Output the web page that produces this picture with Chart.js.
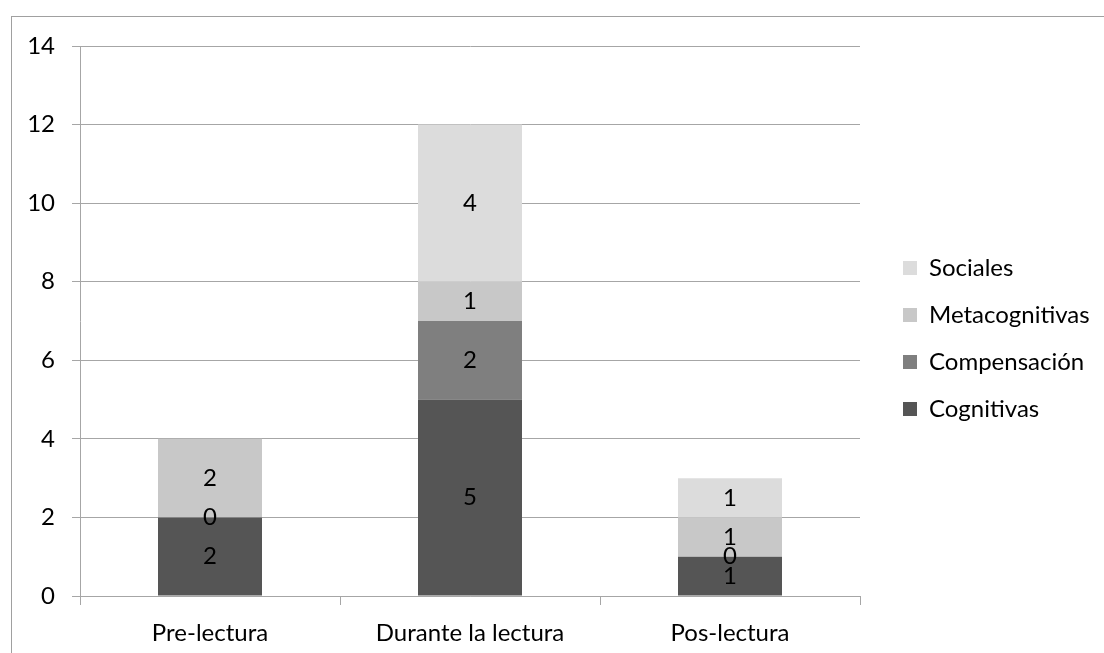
<!DOCTYPE html>
<html>
<head>
    <title>Estrategias por fase de lectura</title>
    <script src="https://cdn.jsdelivr.net/npm/chart.js"></script>
    <style>
        html, body { margin: 0; padding: 0; background: #fff; }
        .chart-container { width: 1104px; height: 653px; position: relative; }
    </style>
</head>
<body>
    <div class="chart-container">
        <canvas id="strategyChart"></canvas>
    </div>

    <script>
        // data
        const categories = ['Pre-lectura', 'Durante la lectura', 'Pos-lectura'];
        const cognitivas = [2, 5, 1];
        const compensacion = [0, 2, 0];
        const metacognitivas = [2, 1, 1];
        const sociales = [null, 4, 1];
        const yTicks = [0, 2, 4, 6, 8, 10, 12, 14];

        const fontFamily = 'Lato, "Open Sans", sans-serif';
        const fontSize = 24;
        const gridColor = '#a6a6a6';

        // outer frame like the original chart box
        const framePlugin = {
            id: 'frame',
            beforeDraw(chart) {
                const ctx = chart.ctx;
                ctx.save();
                ctx.strokeStyle = '#a0a0a0';
                ctx.lineWidth = 1;
                ctx.strokeRect(11.5, 16.5, 1300, 1000);
                ctx.restore();
            }
        };

        // value labels in the middle of every segment
        const valueLabels = {
            id: 'valueLabels',
            afterDatasetsDraw(chart) {
                const ctx = chart.ctx;
                ctx.save();
                ctx.font = fontSize + 'px ' + fontFamily;
                ctx.fillStyle = '#000';
                ctx.textAlign = 'center';
                ctx.textBaseline = 'middle';
                chart.data.datasets.forEach((ds, i) => {
                    const meta = chart.getDatasetMeta(i);
                    meta.data.forEach((bar, j) => {
                        const v = ds.data[j];
                        if (v === null || v === undefined) return;
                        ctx.fillText(String(v), bar.x, (bar.y + bar.base) / 2);
                    });
                });
                ctx.restore();
            }
        };

        // fixed legend width, with the boxes pushed away from the plot
        const legendSize = {
            id: 'legendSize',
            beforeInit(chart) {
                const fit = chart.legend.fit;
                chart.legend.fit = function () {
                    fit.call(this);
                    this.width = 244;
                };
            },
            afterLayout(chart) {
                chart.legend.left += 20;
                chart.legend.top -= 11;
                chart.legend.bottom -= 11;
            }
        };

        const ctx = document.getElementById('strategyChart').getContext('2d');
        const chart = new Chart(ctx, {
            type: 'bar',
            data: {
                labels: categories,
                datasets: [
                    { label: 'Cognitivas', data: cognitivas, backgroundColor: '#555555' },
                    { label: 'Compensación', data: compensacion, backgroundColor: '#7f7f7f' },
                    { label: 'Metacognitivas', data: metacognitivas, backgroundColor: '#c8c8c8' },
                    { label: 'Sociales', data: sociales, backgroundColor: '#dcdcdc' }
                ]
            },
            options: {
                responsive: true,
                maintainAspectRatio: false,
                animation: false,
                layout: { padding: { top: 46, left: 20, right: 0, bottom: 0 } },
                datasets: {
                    bar: { barPercentage: 0.4, categoryPercentage: 1.0 }
                },
                scales: {
                    x: {
                        stacked: true,
                        afterFit(scale) { scale.height = 57; },
                        grid: {
                            offset: true,
                            drawOnChartArea: false,
                            drawTicks: true,
                            tickLength: 9,
                            color: gridColor
                        },
                        border: { color: gridColor },
                        ticks: {
                            color: '#000',
                            padding: 14,
                            font: { family: fontFamily, size: fontSize }
                        }
                    },
                    y: {
                        stacked: true,
                        min: 0,
                        max: 14,
                        afterFit(scale) { scale.width = 60; },
                        afterBuildTicks(scale) {
                            scale.ticks = yTicks.map(v => ({ value: v }));
                        },
                        grid: {
                            color: gridColor,
                            tickLength: 8
                        },
                        border: { color: gridColor },
                        ticks: {
                            color: '#000',
                            padding: 17,
                            font: { family: fontFamily, size: fontSize }
                        }
                    }
                },
                plugins: {
                    tooltip: { enabled: false },
                    legend: {
                        position: 'right',
                        reverse: true,
                        labels: {
                            boxWidth: 14,
                            boxHeight: 14,
                            padding: 23,
                            color: '#000',
                            font: { family: fontFamily, size: fontSize }
                        }
                    }
                }
            },
            plugins: [framePlugin, valueLabels, legendSize]
        });
    </script>
</body>
</html>
